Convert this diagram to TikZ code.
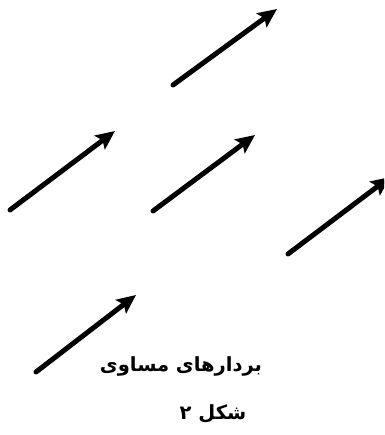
\documentclass[tikz,border=0pt]{standalone}
\usepackage{fontspec}
\usetikzlibrary{arrows.meta}
\TeXXeTstate=1
\newfontfamily\arabicfont[Script=Arabic]{DejaVu Sans}
\begin{document}
\begin{tikzpicture}[x=1pt,y=-1pt,
  vec/.style={line width=5pt, line cap=round, -{Stealth[length=19pt,width=17pt,inset=3.5pt]}},
  lbl/.style={font=\arabicfont\bfseries\fontsize{19.5}{22}\selectfont, inner sep=0pt}]
\useasboundingbox (0,0) rectangle (384,435);
\clip (0,0) rectangle (384,435);
\coordinate (t1) at (173,85);  \coordinate (h1) at (277,9);
\coordinate (t2) at (10,210);  \coordinate (h2) at (115,131);
\coordinate (t3) at (153,211); \coordinate (h3) at (255,135);
\coordinate (t4) at (288,254); \coordinate (h4) at (390,177);
\coordinate (t5) at (36,372);  \coordinate (h5) at (136,295);
\draw[vec] (t1) -- (h1);
\draw[vec] (t2) -- (h2);
\draw[vec] (t3) -- (h3);
\draw[vec] (t4) -- (h4);
\draw[vec] (t5) -- (h5);
\node[lbl] (title) at (181,366) {\beginR بردارهای مساوی\endR};
\node[lbl] (fig) at (213,414) {\beginR شکل ۲\endR};
\end{tikzpicture}
\end{document}
